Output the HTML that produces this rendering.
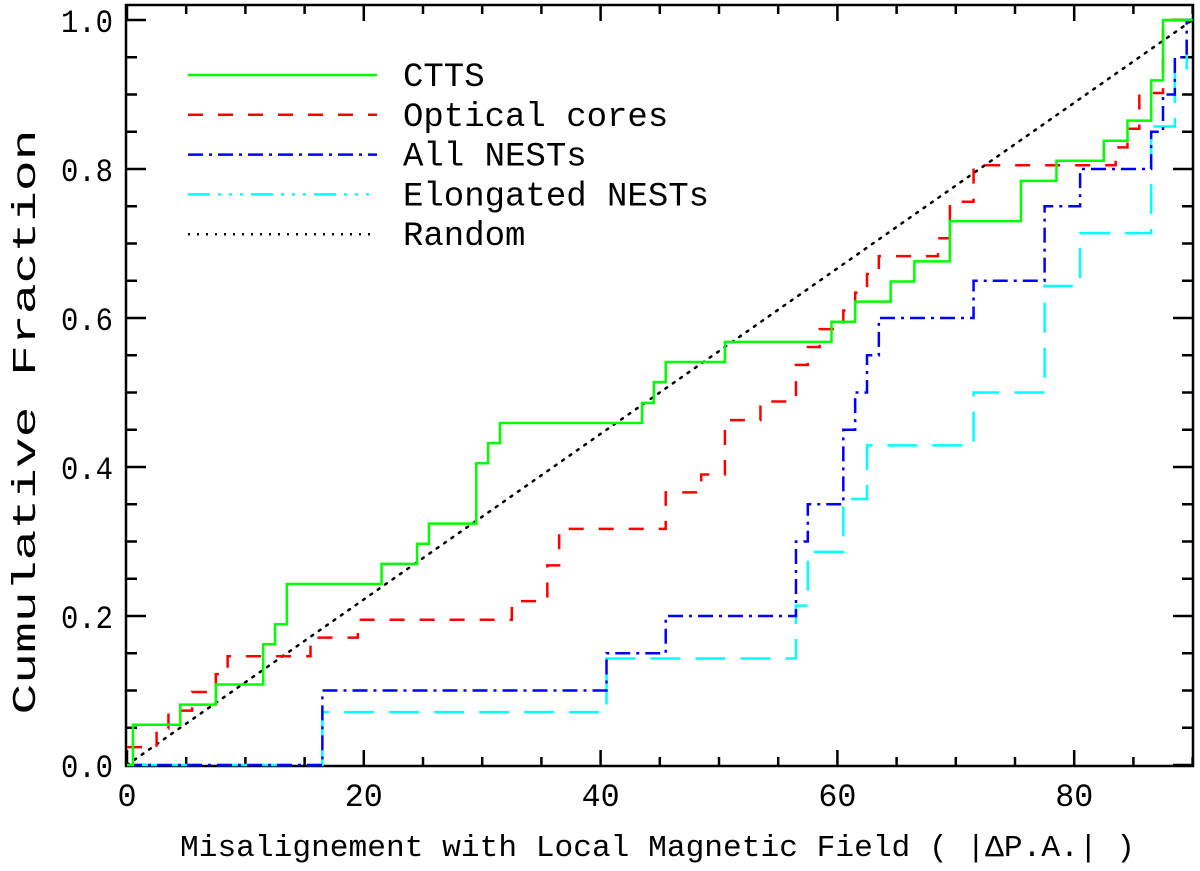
<!DOCTYPE html>
<html><head><meta charset="utf-8"><style>html,body{margin:0;padding:0;background:#fff}svg{display:block}</style></head>
<body>
<svg id="chart" width="1200" height="871" viewBox="0 0 1200 871" xmlns="http://www.w3.org/2000/svg" font-family="'Liberation Mono', monospace">
<g id="axes"></g>
<g id="series"></g>
<g id="legend"></g>
</svg>
<script>
const xTicks = [0, 20, 40, 60, 80];
const yTicks = [0.0, 0.2, 0.4, 0.6, 0.8, 1.0];
const yTickLabels = ["0.0", "0.2", "0.4", "0.6", "0.8", "1.0"];
const cttsX = [0.5,4.5,7.5,11.5,12.5,13.5,21.5,24.5,25.5,29.5,30.5,31.5,43.5,44.5,45.5,50.5,59.5,61.5,64.5,66.5,69.5,75.5,78.5,82.5,84.5,86.5,87.5];
const cttsY = [0.054,0.081,0.108,0.162,0.189,0.243,0.27,0.297,0.324,0.405,0.432,0.459,0.486,0.514,0.541,0.568,0.595,0.622,0.649,0.676,0.73,0.784,0.811,0.838,0.865,0.919,1.0];
const cttsStart = 0;
const opticalX = [2.5,3.5,5.5,7.5,8.5,15.5,19.5,32.5,35.5,36.5,45.5,48.5,50.5,53.5,56.5,57.5,58.5,60.5,61.5,62.5,63.5,68.5,69.5,71.5,83.5,84.5,85.5,87.5];
const opticalY = [0.049,0.073,0.098,0.122,0.146,0.171,0.195,0.22,0.268,0.317,0.366,0.39,0.463,0.488,0.537,0.561,0.585,0.61,0.634,0.659,0.683,0.707,0.756,0.805,0.829,0.854,0.902,1.0];
const opticalStart = 0.024;
const allNestX = [16.5,40.5,45.5,56.5,57.5,60.5,61.5,62.5,63.5,71.5,77.5,80.5,86.5,87.5,88.5,89.5];
const allNestY = [0.1,0.15,0.2,0.3,0.35,0.45,0.5,0.55,0.6,0.65,0.75,0.8,0.85,0.9,0.95,1.0];
const allNestStart = 0;
const elongX = [16.5,40.5,56.5,57.5,60.5,62.5,71.5,77.5,80.5,86.5,88.5,89.5];
const elongY = [0.071,0.143,0.214,0.286,0.357,0.429,0.5,0.643,0.714,0.857,0.929,1.0];
const elongStart = 0;

const NS = "http://www.w3.org/2000/svg";
const X0 = 127, XS = 11.84, Y0 = 765, YS = 745;
const L = 126, R = 1193, T = 5, B = 766;
function sx(v){ return X0 + v*XS; }
function sy(v){ return Y0 - v*YS; }
function mk(tag, attrs, parent){ const e = document.createElementNS(NS, tag); for (const k in attrs) e.setAttribute(k, attrs[k]); parent.appendChild(e); return e; }

const axes = document.getElementById('axes');
const frame = mk('rect', {x:L, y:T, width:R-L, height:B-T, fill:'none', stroke:'#000', 'stroke-width':2.5}, axes);


for (let v = 0; v <= 90; v += 5) {
  const major = v % 20 === 0;
  const len = major ? 16 : 9;
  const t1 = mk('line', {x1:sx(v), x2:sx(v), y1:B, y2:B-len, stroke:'#000', 'stroke-width':2.5}, axes);
  
  
  const t2 = mk('line', {x1:sx(v), x2:sx(v), y1:T, y2:T+len, stroke:'#000', 'stroke-width':2.5}, axes);
  
  
}
for (let i = 0; i <= 20; i++) {
  const v = i*0.05;
  const major = i % 4 === 0;
  const len = major ? 20 : 11;
  const t1 = mk('line', {x1:L, x2:L+len, y1:sy(v), y2:sy(v), stroke:'#000', 'stroke-width':2.5}, axes);
  
  
  const t2 = mk('line', {x1:R, x2:R-len, y1:sy(v), y2:sy(v), stroke:'#000', 'stroke-width':2.5}, axes);
  
  
}
xTicks.forEach(v => {
  const s = String(v);
  const t = mk('text', {x:sx(v), y:806, 'font-size':32, 'text-anchor':'middle', textLength: s.length*19, lengthAdjust:'spacingAndGlyphs'}, axes);
  t.textContent = s;
  
  
});
yTicks.forEach((v, i) => {
  const t = mk('text', {x:113, y:sy(v)+12, 'font-size':32, 'text-anchor':'end', textLength:52, lengthAdjust:'spacingAndGlyphs'}, axes);
  t.textContent = yTickLabels[i];
  
  
});
const xt = mk('text', {x:180, y:856, 'font-size':31, textLength:955, lengthAdjust:'spacingAndGlyphs'}, axes);
xt.textContent = 'Misalignement with Local Magnetic Field ( |ΔP.A.| )';


const yt = mk('text', {x:0, y:0, 'font-size':33, 'text-anchor':'middle', transform:'translate(35,422) rotate(-90)', textLength:585, lengthAdjust:'spacingAndGlyphs'}, axes);
yt.textContent = 'Cumulative Fraction';



const series = document.getElementById('series');
function stepPath(start, xs, ys){
  let d = 'M' + sx(0) + ' ' + sy(start);
  for (let i = 0; i < xs.length; i++) d += ' H' + sx(xs[i]) + ' V' + sy(ys[i]);
  d += ' H' + sx(90);
  return d;
}
const styles = {
  random: {stroke:'#000', dash:'2 7'},
  ctts: {stroke:'#00ff00', dash:''},
  optical: {stroke:'#ff0000', dash:'15 15'},
  allnest: {stroke:'#0000ff', dash:'15 6 3 6'},
  elong: {stroke:'#00ffff', dash:'30 15'}
};
const legendDash = {random:'2 7', ctts:'', optical:'15 15', allnest:'15 6 3 6', elong:'22 8 3 8 3 8 3 8'};
const rnd = mk('line', {x1:sx(0), y1:sy(0), x2:sx(90), y2:sy(1), stroke:'#000', 'stroke-width':2.5, 'stroke-dasharray':styles.random.dash, 'stroke-linecap':'round'}, series);


const el = mk('path', {d:stepPath(elongStart, elongX, elongY), fill:'none', stroke:styles.elong.stroke, 'stroke-width':2.5, 'stroke-dasharray':styles.elong.dash}, series);


const an = mk('path', {d:stepPath(allNestStart, allNestX, allNestY), fill:'none', stroke:styles.allnest.stroke, 'stroke-width':2.5, 'stroke-dasharray':styles.allnest.dash}, series);


const op = mk('path', {d:stepPath(opticalStart, opticalX, opticalY), fill:'none', stroke:styles.optical.stroke, 'stroke-width':2.5, 'stroke-dasharray':styles.optical.dash}, series);


const ct = mk('path', {d:stepPath(cttsStart, cttsX, cttsY), fill:'none', stroke:styles.ctts.stroke, 'stroke-width':2.5}, series);



const legend = document.getElementById('legend');
const legendNames = ['CTTS', 'Optical cores', 'All NESTs', 'Elongated NESTs', 'Random'];
const legendKeys = ['ctts', 'optical', 'allnest', 'elong', 'random'];
legendNames.forEach((name, i) => {
  const y = 75 + i*39.8;
  const st = styles[legendKeys[i]];
  const ln = mk('line', {x1:188, x2:377, y1:y, y2:y, stroke:st.stroke, 'stroke-width':2.5, 'stroke-dasharray':legendDash[legendKeys[i]]}, legend);
  
  
  const tx = mk('text', {x:403, y:y+11, 'font-size':34}, legend);
  tx.textContent = name;
  
  
});
</script>
</body></html>
